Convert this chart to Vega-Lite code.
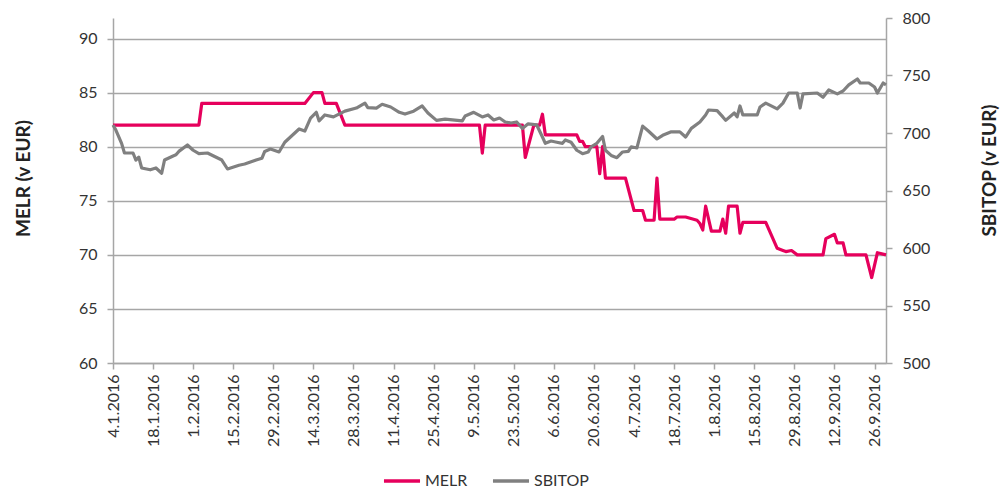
{
  "$schema": "https://vega.github.io/schema/vega-lite/v6.json",
  "width": 773,
  "height": 345,
  "autosize": "none",
  "padding": {"left": 113, "top": 18, "right": 115, "bottom": 126},
  "background": "white",
  "config": {
    "view": {"stroke": null},
    "font": "Lato",
    "axis": {
      "labelFont": "Lato",
      "titleFont": "Lato",
      "labelColor": "#333333",
      "titleColor": "#222222",
      "domainColor": "#A6A6A6",
      "domainWidth": 1.5,
      "tickColor": "#A6A6A6",
      "tickWidth": 1.5,
      "tickSize": 6,
      "labelFontSize": 16,
      "gridColor": "#A6A6A6",
      "gridWidth": 1.5
    },
    "legend": {"labelFont": "Lato", "padding": 0}
  },
  "datasets": {
    "melr": [
      {"date": "2016-01-04", "value": 82},
      {"date": "2016-02-03", "value": 82},
      {"date": "2016-02-04", "value": 84},
      {"date": "2016-03-11", "value": 84},
      {"date": "2016-03-14", "value": 85},
      {"date": "2016-03-17", "value": 85},
      {"date": "2016-03-18", "value": 84},
      {"date": "2016-03-22", "value": 84},
      {"date": "2016-03-25", "value": 82},
      {"date": "2016-05-11", "value": 82},
      {"date": "2016-05-12", "value": 79.4},
      {"date": "2016-05-13", "value": 82},
      {"date": "2016-05-26", "value": 82},
      {"date": "2016-05-27", "value": 79.0},
      {"date": "2016-05-30", "value": 82},
      {"date": "2016-06-01", "value": 82},
      {"date": "2016-06-02", "value": 83},
      {"date": "2016-06-03", "value": 81.1},
      {"date": "2016-06-14", "value": 81.1},
      {"date": "2016-06-15", "value": 80.5},
      {"date": "2016-06-16", "value": 80.5},
      {"date": "2016-06-17", "value": 80.0},
      {"date": "2016-06-21", "value": 80.0},
      {"date": "2016-06-22", "value": 77.5},
      {"date": "2016-06-23", "value": 80.0},
      {"date": "2016-06-24", "value": 77.1},
      {"date": "2016-07-01", "value": 77.1},
      {"date": "2016-07-04", "value": 74.1},
      {"date": "2016-07-07", "value": 74.1},
      {"date": "2016-07-08", "value": 73.2},
      {"date": "2016-07-11", "value": 73.2},
      {"date": "2016-07-12", "value": 77.1},
      {"date": "2016-07-13", "value": 73.3},
      {"date": "2016-07-18", "value": 73.3},
      {"date": "2016-07-19", "value": 73.5},
      {"date": "2016-07-22", "value": 73.5},
      {"date": "2016-07-26", "value": 73.2},
      {"date": "2016-07-27", "value": 72.9},
      {"date": "2016-07-28", "value": 72.3},
      {"date": "2016-07-29", "value": 74.5},
      {"date": "2016-07-31", "value": 72.2},
      {"date": "2016-08-03", "value": 72.2},
      {"date": "2016-08-04", "value": 73.3},
      {"date": "2016-08-05", "value": 72.0},
      {"date": "2016-08-06", "value": 74.5},
      {"date": "2016-08-09", "value": 74.5},
      {"date": "2016-08-10", "value": 72.0},
      {"date": "2016-08-11", "value": 73.0},
      {"date": "2016-08-19", "value": 73.0},
      {"date": "2016-08-23", "value": 70.6},
      {"date": "2016-08-25", "value": 70.4},
      {"date": "2016-08-26", "value": 70.3},
      {"date": "2016-08-28", "value": 70.4},
      {"date": "2016-08-30", "value": 70.0},
      {"date": "2016-09-08", "value": 70.0},
      {"date": "2016-09-09", "value": 71.5},
      {"date": "2016-09-12", "value": 71.9},
      {"date": "2016-09-13", "value": 71.1},
      {"date": "2016-09-15", "value": 71.1},
      {"date": "2016-09-16", "value": 70.0},
      {"date": "2016-09-23", "value": 70.0},
      {"date": "2016-09-25", "value": 67.9},
      {"date": "2016-09-27", "value": 70.2},
      {"date": "2016-09-30", "value": 70.0}
    ],
    "sbitop": [
      {"date": "2016-01-04", "value": 707},
      {"date": "2016-01-05", "value": 702.6},
      {"date": "2016-01-07", "value": 691},
      {"date": "2016-01-08", "value": 682.6},
      {"date": "2016-01-11", "value": 682.6},
      {"date": "2016-01-12", "value": 676.5},
      {"date": "2016-01-13", "value": 679},
      {"date": "2016-01-14", "value": 669.6},
      {"date": "2016-01-17", "value": 668},
      {"date": "2016-01-19", "value": 669.6},
      {"date": "2016-01-21", "value": 665},
      {"date": "2016-01-22", "value": 676.5},
      {"date": "2016-01-25", "value": 680},
      {"date": "2016-01-26", "value": 681},
      {"date": "2016-01-27", "value": 684},
      {"date": "2016-01-30", "value": 689.6},
      {"date": "2016-02-01", "value": 685},
      {"date": "2016-02-03", "value": 682},
      {"date": "2016-02-06", "value": 682.6},
      {"date": "2016-02-11", "value": 676.5},
      {"date": "2016-02-13", "value": 668.7},
      {"date": "2016-02-17", "value": 672},
      {"date": "2016-02-19", "value": 673},
      {"date": "2016-02-23", "value": 676.5},
      {"date": "2016-02-25", "value": 678},
      {"date": "2016-02-26", "value": 684},
      {"date": "2016-02-28", "value": 686},
      {"date": "2016-03-02", "value": 683.5},
      {"date": "2016-03-04", "value": 692},
      {"date": "2016-03-09", "value": 703.5},
      {"date": "2016-03-11", "value": 701.7},
      {"date": "2016-03-13", "value": 713},
      {"date": "2016-03-15", "value": 718},
      {"date": "2016-03-16", "value": 710.5},
      {"date": "2016-03-18", "value": 715.7},
      {"date": "2016-03-21", "value": 714},
      {"date": "2016-03-25", "value": 719},
      {"date": "2016-03-29", "value": 721.7},
      {"date": "2016-04-01", "value": 726},
      {"date": "2016-04-02", "value": 722},
      {"date": "2016-04-05", "value": 721.7},
      {"date": "2016-04-07", "value": 725},
      {"date": "2016-04-10", "value": 722.6},
      {"date": "2016-04-13", "value": 718},
      {"date": "2016-04-15", "value": 716.5},
      {"date": "2016-04-18", "value": 719},
      {"date": "2016-04-21", "value": 723.5},
      {"date": "2016-04-23", "value": 717.4},
      {"date": "2016-04-26", "value": 711},
      {"date": "2016-04-29", "value": 712},
      {"date": "2016-05-05", "value": 710.5},
      {"date": "2016-05-06", "value": 714.8},
      {"date": "2016-05-09", "value": 718},
      {"date": "2016-05-12", "value": 714},
      {"date": "2016-05-14", "value": 715.7},
      {"date": "2016-05-16", "value": 711.3},
      {"date": "2016-05-18", "value": 713},
      {"date": "2016-05-20", "value": 709.6},
      {"date": "2016-05-22", "value": 708.7},
      {"date": "2016-05-24", "value": 709.6},
      {"date": "2016-05-26", "value": 704},
      {"date": "2016-05-28", "value": 708},
      {"date": "2016-05-31", "value": 707},
      {"date": "2016-06-02", "value": 696.5},
      {"date": "2016-06-03", "value": 691},
      {"date": "2016-06-05", "value": 693},
      {"date": "2016-06-07", "value": 692},
      {"date": "2016-06-09", "value": 691},
      {"date": "2016-06-10", "value": 694},
      {"date": "2016-06-12", "value": 692},
      {"date": "2016-06-14", "value": 685},
      {"date": "2016-06-16", "value": 682},
      {"date": "2016-06-18", "value": 683.5},
      {"date": "2016-06-19", "value": 688},
      {"date": "2016-06-21", "value": 691},
      {"date": "2016-06-23", "value": 697},
      {"date": "2016-06-24", "value": 685},
      {"date": "2016-06-26", "value": 680.5},
      {"date": "2016-06-28", "value": 678.5},
      {"date": "2016-06-30", "value": 683.5},
      {"date": "2016-07-02", "value": 684},
      {"date": "2016-07-03", "value": 688},
      {"date": "2016-07-05", "value": 687},
      {"date": "2016-07-07", "value": 706},
      {"date": "2016-07-09", "value": 701.7},
      {"date": "2016-07-12", "value": 694.8},
      {"date": "2016-07-14", "value": 698},
      {"date": "2016-07-17", "value": 701},
      {"date": "2016-07-20", "value": 701},
      {"date": "2016-07-22", "value": 696.5},
      {"date": "2016-07-24", "value": 704},
      {"date": "2016-07-27", "value": 709.6},
      {"date": "2016-07-29", "value": 715.7},
      {"date": "2016-07-30", "value": 720},
      {"date": "2016-08-02", "value": 719.5},
      {"date": "2016-08-04", "value": 714},
      {"date": "2016-08-05", "value": 711},
      {"date": "2016-08-08", "value": 717.4},
      {"date": "2016-08-09", "value": 714},
      {"date": "2016-08-10", "value": 723.5},
      {"date": "2016-08-11", "value": 715.7},
      {"date": "2016-08-16", "value": 715.7},
      {"date": "2016-08-17", "value": 722.6},
      {"date": "2016-08-19", "value": 726},
      {"date": "2016-08-23", "value": 721},
      {"date": "2016-08-25", "value": 726},
      {"date": "2016-08-27", "value": 734.8},
      {"date": "2016-08-30", "value": 734.8},
      {"date": "2016-08-31", "value": 721.7},
      {"date": "2016-09-01", "value": 734},
      {"date": "2016-09-06", "value": 734.8},
      {"date": "2016-09-08", "value": 731},
      {"date": "2016-09-10", "value": 737.4},
      {"date": "2016-09-13", "value": 734},
      {"date": "2016-09-15", "value": 736.5},
      {"date": "2016-09-17", "value": 741.8},
      {"date": "2016-09-20", "value": 747},
      {"date": "2016-09-21", "value": 743.5},
      {"date": "2016-09-24", "value": 743.5},
      {"date": "2016-09-26", "value": 740},
      {"date": "2016-09-27", "value": 734.8},
      {"date": "2016-09-29", "value": 743.5},
      {"date": "2016-09-30", "value": 741.8}
    ]
  },
  "encoding": {
    "x": {
      "field": "date",
      "type": "temporal",
      "scale": {
        "type": "utc",
        "domain": [
          {"year": 2016, "month": 1, "date": 4, "utc": true},
          {"year": 2016, "month": 9, "date": 30, "utc": true}
        ]
      },
      "axis": {
        "title": null,
        "grid": false,
        "labelExpr": "utcFormat(datum.value, '%-d.%-m.%Y')",
        "labelAngle": -90,
        "labelPadding": 5,
        "labelFontSize": 16,
        "labelOverlap": false,
        "values": [
          {"year": 2016, "month": 1, "date": 4, "utc": true},
          {"year": 2016, "month": 1, "date": 18, "utc": true},
          {"year": 2016, "month": 2, "date": 1, "utc": true},
          {"year": 2016, "month": 2, "date": 15, "utc": true},
          {"year": 2016, "month": 2, "date": 29, "utc": true},
          {"year": 2016, "month": 3, "date": 14, "utc": true},
          {"year": 2016, "month": 3, "date": 28, "utc": true},
          {"year": 2016, "month": 4, "date": 11, "utc": true},
          {"year": 2016, "month": 4, "date": 25, "utc": true},
          {"year": 2016, "month": 5, "date": 9, "utc": true},
          {"year": 2016, "month": 5, "date": 23, "utc": true},
          {"year": 2016, "month": 6, "date": 6, "utc": true},
          {"year": 2016, "month": 6, "date": 20, "utc": true},
          {"year": 2016, "month": 7, "date": 4, "utc": true},
          {"year": 2016, "month": 7, "date": 18, "utc": true},
          {"year": 2016, "month": 8, "date": 1, "utc": true},
          {"year": 2016, "month": 8, "date": 15, "utc": true},
          {"year": 2016, "month": 8, "date": 29, "utc": true},
          {"year": 2016, "month": 9, "date": 12, "utc": true},
          {"year": 2016, "month": 9, "date": 26, "utc": true}
        ]
      }
    }
  },
  "layer": [
    {
      "data": {"name": "melr"},
      "mark": {"type": "line", "strokeWidth": 3.2, "strokeJoin": "round"},
      "encoding": {
        "y": {
          "field": "value",
          "type": "quantitative",
          "scale": {"domain": [60, 91.9], "nice": false, "zero": false},
          "axis": {
            "orient": "left",
            "values": [60, 65, 70, 75, 80, 85, 90],
            "grid": true,
            "labelPadding": 10,
            "title": "MELR (v EUR)",
            "titleFontSize": 19,
            "titleFontWeight": "bold",
            "titleAngle": -90,
            "titleAlign": "center",
            "titleBaseline": "middle",
            "titleX": -90,
            "titleY": 160
          }
        },
        "color": {
          "datum": "MELR",
          "type": "nominal",
          "scale": {"domain": ["MELR", "SBITOP"], "range": ["#E6005C", "#808080"]},
          "legend": {
            "title": null,
            "orient": "none",
            "direction": "horizontal",
            "legendX": 269,
            "legendY": 443,
            "symbolType": "stroke",
            "symbolSize": 1300,
            "symbolStrokeWidth": 3.5,
            "labelFontSize": 16,
            "labelColor": "#333333",
            "labelBaseline": "middle",
            "labelOffset": 3,
            "columnPadding": 17
          }
        }
      }
    },
    {
      "data": {"name": "sbitop"},
      "mark": {"type": "line", "strokeWidth": 3.2, "strokeJoin": "round"},
      "encoding": {
        "y": {
          "field": "value",
          "type": "quantitative",
          "scale": {"domain": [500, 800], "nice": false, "zero": false},
          "axis": {
            "orient": "right",
            "values": [500, 550, 600, 650, 700, 750, 800],
            "grid": false,
            "labelPadding": 10,
            "title": "SBITOP (v EUR)",
            "titleFontSize": 19,
            "titleFontWeight": "bold",
            "titleAngle": -90,
            "titleAlign": "center",
            "titleBaseline": "middle",
            "titleX": 103,
            "titleY": 152
          }
        },
        "color": {"datum": "SBITOP", "type": "nominal"}
      }
    }
  ],
  "resolve": {"scale": {"y": "independent"}}
}
